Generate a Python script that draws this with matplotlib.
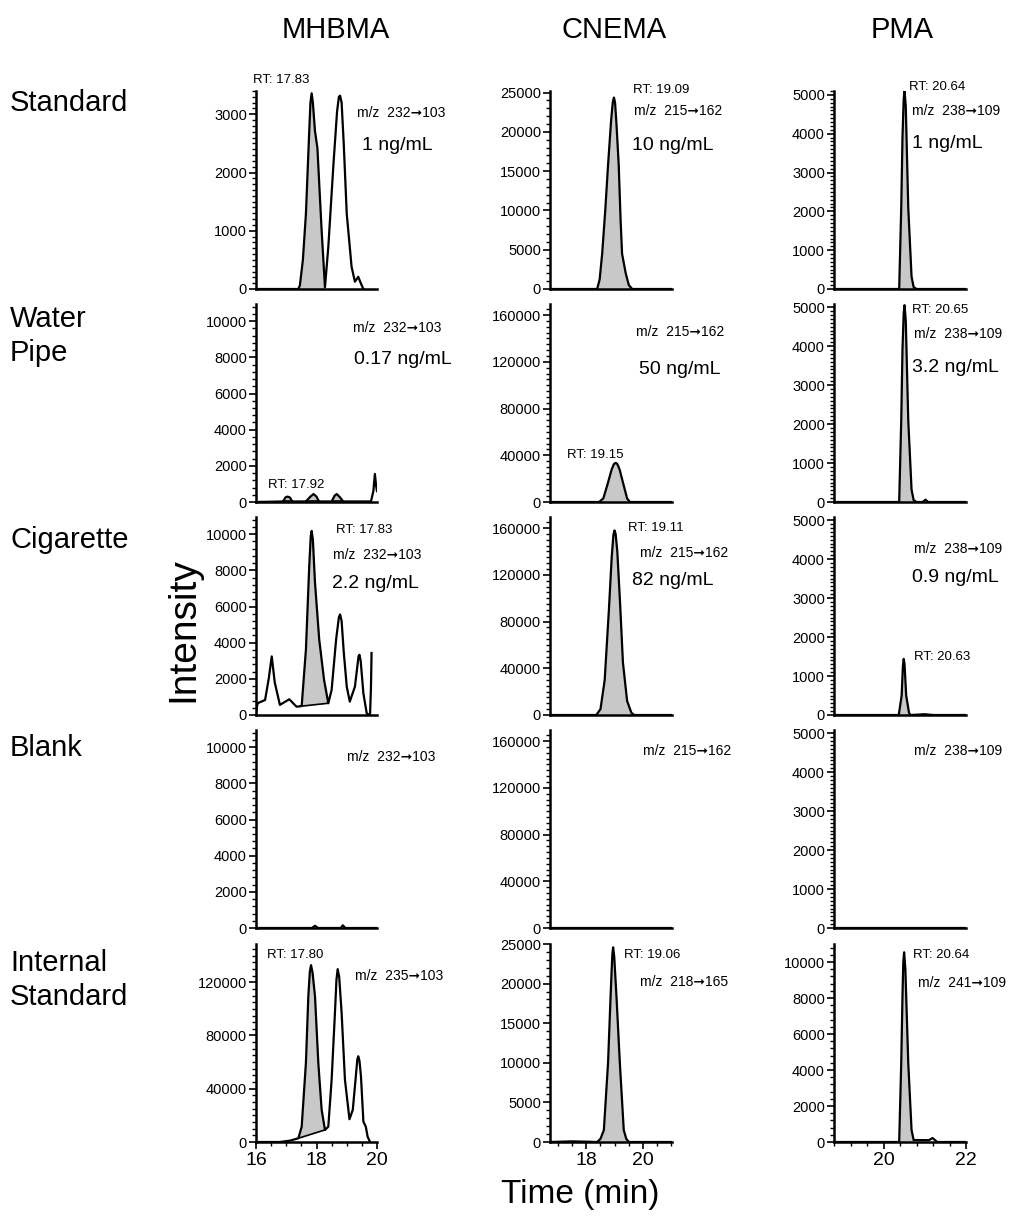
import numpy as np
import matplotlib.pyplot as plt
from matplotlib.ticker import MultipleLocator, AutoMinorLocator, NullLocator

plt.rcParams['font.family'] = ['Liberation Sans', 'DejaVu Sans']

W, H = 1029, 1222

compounds = ["MHBMA", "CNEMA", "PMA"]
samples = ["Standard", "Water\nPipe", "Cigarette", "Blank", "Internal\nStandard"]
x_limits = [(16.0, 20.0), (16.7, 21.05), (18.8, 22.0)]

# chromatogram traces (time in min, intensity)
mhbma_std_t = [16.0, 17.40, 17.45, 17.55, 17.65, 17.76, 17.80, 17.84, 17.88, 17.95, 18.03,
               18.17, 18.28, 18.39, 18.56, 18.68, 18.74, 18.78, 18.83, 18.90, 19.00, 19.16,
               19.27, 19.38, 19.48, 19.55]
mhbma_std_i = [0, 0, 60, 500, 1290, 2710, 3200, 3360, 3200, 2710, 2420,
               1000, 30, 720, 2140, 3050, 3300, 3320, 3200, 2500, 1290, 380,
               125, 210, 80, 0]

mhbma_wp_t = [16.0, 16.9, 16.97, 17.04, 17.12, 17.2, 17.65, 17.8, 17.9, 18.0, 18.08,
              18.5, 18.6, 18.67, 18.78, 18.88, 19.8, 19.88, 19.93, 19.97, 20.0]
mhbma_wp_i = [0, 30, 250, 300, 250, 30, 30, 300, 440, 300, 30,
              30, 350, 440, 250, 30, 30, 600, 1550, 900, 600]

mhbma_cig_t = [16.0, 16.05, 16.3, 16.42, 16.52, 16.62, 16.79, 17.1, 17.34, 17.45, 17.51,
               17.65, 17.76, 17.81, 17.84, 17.88, 17.95, 18.09, 18.25, 18.39, 18.5, 18.65,
               18.74, 18.78, 18.83, 18.9, 19.0, 19.1, 19.27, 19.39, 19.42, 19.46, 19.55,
               19.66, 19.77, 19.80, 19.82]
mhbma_cig_i = [100, 650, 830, 2000, 3240, 1800, 560, 870, 460, 480, 500,
               3610, 8240, 9900, 10180, 9700, 7320, 4170, 1940, 650, 1390, 4200,
               5400, 5560, 5200, 3500, 1570, 740, 1570, 3250, 3330, 3000, 1200,
               90, 0, 1500, 3430]

mhbma_blank_t = [16.0, 17.85, 17.95, 18.05, 18.8, 18.87, 18.95, 20.0]
mhbma_blank_i = [0, 0, 120, 0, 0, 150, 0, 0]

mhbma_is_t = [16.0, 16.79, 17.12, 17.40, 17.51, 17.65, 17.73, 17.78, 17.82, 17.87, 17.95,
              18.06, 18.17, 18.28, 18.39, 18.5, 18.61, 18.66, 18.7, 18.75, 18.83, 18.94,
              19.09, 19.2, 19.3, 19.35, 19.38, 19.42, 19.47, 19.55, 19.63, 19.69, 19.77]
mhbma_is_i = [0, 0, 1000, 2800, 11500, 59400, 109600, 128000, 132800, 127000, 109600,
              59400, 24200, 9100, 11500, 46800, 97100, 122000, 129800, 124000, 97100, 46800,
              17100, 24200, 49300, 62000, 64400, 61000, 49300, 15300, 11500, 4000, 0]

cnema_std_t = [16.7, 18.38, 18.47, 18.56, 18.67, 18.77, 18.88, 18.94, 18.98, 19.02, 19.07,
               19.15, 19.22, 19.27, 19.40, 19.51, 19.63, 21.05]
cnema_std_i = [0, 0, 1200, 4480, 10000, 15790, 21500, 23800, 24370, 23700, 21000,
               15790, 8500, 4480, 2000, 500, 0, 0]

cnema_wp_t = [16.7, 18.45, 18.6, 18.75, 18.9, 18.98, 19.04, 19.1, 19.18, 19.32, 19.45, 19.55, 21.05]
cnema_wp_i = [0, 0, 3000, 15000, 28000, 32500, 33500, 32500, 28000, 15000, 3000, 0, 0]

cnema_cig_t = [16.7, 18.35, 18.5, 18.65, 18.8, 18.9, 18.96, 19.0, 19.04, 19.1, 19.2, 19.3,
               19.45, 19.6, 19.7, 21.05]
cnema_cig_i = [0, 0, 5000, 30000, 90000, 135000, 154000, 158000, 155000, 140000, 95000, 45000,
               12000, 2000, 0, 0]

cnema_blank_t = [16.7, 21.05]
cnema_blank_i = [0, 0]

cnema_is_t = [16.7, 17.5, 18.0, 18.38, 18.5, 18.62, 18.77, 18.86, 18.92, 18.95, 18.99, 19.07,
              19.19, 19.33, 19.42, 19.51, 21.05]
cnema_is_i = [0, 80, 40, 0, 400, 1500, 10000, 18400, 23500, 24580, 23400, 18400,
              10000, 1500, 400, 0, 0]

pma_std_t = [18.8, 20.38, 20.43, 20.46, 20.49, 20.51, 20.54, 20.6, 20.68, 20.73, 20.8, 22.0]
pma_std_i = [0, 0, 2100, 3900, 4900, 5100, 4700, 2100, 320, 50, 0, 0]

pma_wp_t = [18.8, 20.38, 20.43, 20.46, 20.49, 20.51, 20.54, 20.6, 20.68, 20.73, 20.8,
            20.95, 21.02, 21.08, 22.0]
pma_wp_i = [0, 0, 2100, 3900, 4850, 5050, 4650, 2100, 320, 50, 0,
            0, 60, 0, 0]

pma_cig_t = [18.8, 20.37, 20.44, 20.47, 20.49, 20.51, 20.55, 20.62, 20.66, 21.0, 21.2, 22.0]
pma_cig_i = [0, 0, 500, 1250, 1440, 1300, 500, 50, 0, 20, 0, 0]

pma_blank_t = [18.8, 22.0]
pma_blank_i = [0, 0]

pma_is_t = [18.8, 20.38, 20.43, 20.46, 20.48, 20.5, 20.53, 20.6, 20.68, 20.73, 21.1, 21.19,
            21.3, 22.0]
pma_is_i = [0, 0, 4400, 8100, 10000, 10540, 9600, 4400, 670, 110, 100, 220,
            0, 0]

# integrated areas: (t start, baseline start, t end, baseline end)
mhbma_std_area = [(17.45, 0, 18.28, 0)]
mhbma_wp_area = [(16.9, 30, 17.2, 30), (17.65, 30, 18.08, 30), (18.5, 30, 18.88, 30)]
mhbma_cig_area = [(17.45, 480, 18.39, 650)]
mhbma_is_area = [(17.40, 2800, 18.28, 9100)]
cnema_std_area = [(18.38, 0, 19.63, 0)]
cnema_wp_area = [(18.45, 0, 19.55, 0)]
cnema_cig_area = [(18.35, 0, 19.7, 0)]
cnema_is_area = [(18.38, 0, 19.51, 0)]
pma_std_area = [(20.38, 0, 20.73, 0)]
pma_wp_area = [(20.38, 0, 20.73, 0)]
pma_cig_area = [(20.37, 0, 20.66, 0)]
pma_is_area = [(20.38, 0, 20.73, 0)]

traces = [
    [(mhbma_std_t, mhbma_std_i, mhbma_std_area), (cnema_std_t, cnema_std_i, cnema_std_area),
     (pma_std_t, pma_std_i, pma_std_area)],
    [(mhbma_wp_t, mhbma_wp_i, mhbma_wp_area), (cnema_wp_t, cnema_wp_i, cnema_wp_area),
     (pma_wp_t, pma_wp_i, pma_wp_area)],
    [(mhbma_cig_t, mhbma_cig_i, mhbma_cig_area), (cnema_cig_t, cnema_cig_i, cnema_cig_area),
     (pma_cig_t, pma_cig_i, pma_cig_area)],
    [(mhbma_blank_t, mhbma_blank_i, []), (cnema_blank_t, cnema_blank_i, []),
     (pma_blank_t, pma_blank_i, [])],
    [(mhbma_is_t, mhbma_is_i, mhbma_is_area), (cnema_is_t, cnema_is_i, cnema_is_area),
     (pma_is_t, pma_is_i, pma_is_area)],
]

y_tops = [[3400, 25200, 5100],
          [10950, 169500, 5080],
          [10950, 169500, 5080],
          [10950, 169500, 5080],
          [148700, 25000, 11000]]
y_steps = [[1000, 5000, 1000],
           [2000, 40000, 1000],
           [2000, 40000, 1000],
           [2000, 40000, 1000],
           [40000, 5000, 2000]]
y_minor = [[10, 5, 10], [5, 8, 10], [5, 8, 10], [5, 8, 10], [8, 5, 5]]
x_minor = [0.5, 0.5, 0.4]

# annotations per panel: (text, left px, centre px, size)
arrow = "\u279e"
RT, MZ, CONC = 9.5, 10, 14
notes = [
    [[("RT: 17.83", 253, 80, RT), (f"m/z  232{arrow}103", 357, 113, MZ), ("1 ng/mL", 362, 146, CONC)],
     [("RT: 19.09", 633, 90, RT), (f"m/z  215{arrow}162", 634, 111, MZ), ("10 ng/mL", 632, 146, CONC)],
     [("RT: 20.64", 909, 87, RT), (f"m/z  238{arrow}109", 912, 111, MZ), ("1 ng/mL", 912, 144, CONC)]],
    [[(f"m/z  232{arrow}103", 353, 328, MZ), ("0.17 ng/mL", 354, 359, CONC), ("RT: 17.92", 268, 485, RT)],
     [(f"m/z  215{arrow}162", 636, 332, MZ), ("50 ng/mL", 639, 369, CONC), ("RT: 19.15", 567, 455, RT)],
     [("RT: 20.65", 912, 310, RT), (f"m/z  238{arrow}109", 914, 334, MZ), ("3.2 ng/mL", 912, 368, CONC)]],
    [[("RT: 17.83", 336, 530, RT), (f"m/z  232{arrow}103", 333, 555, MZ), ("2.2 ng/mL", 332, 583, CONC)],
     [("RT: 19.11", 628, 528, RT), (f"m/z  215{arrow}162", 640, 553, MZ), ("82 ng/mL", 632, 581, CONC)],
     [(f"m/z  238{arrow}109", 914, 549, MZ), ("0.9 ng/mL", 912, 578, CONC), ("RT: 20.63", 914, 657, RT)]],
    [[(f"m/z  232{arrow}103", 347, 757, MZ)],
     [(f"m/z  215{arrow}162", 643, 751, MZ)],
     [(f"m/z  238{arrow}109", 914, 751, MZ)]],
    [[("RT: 17.80", 267, 955, RT), (f"m/z  235{arrow}103", 355, 976, MZ)],
     [("RT: 19.06", 624, 955, RT), (f"m/z  218{arrow}165", 640, 982, MZ)],
     [("RT: 20.64", 913, 955, RT), (f"m/z  241{arrow}109", 918, 983, MZ)]],
]

col_left = [256, 550, 834]
col_width = [121, 122, 132]
row_bottom = [289, 502, 715, 928, 1142]
row_height = 198

fig = plt.figure(figsize=(W / 100, H / 100), dpi=100)

for r in range(5):
    for c in range(3):
        ax = fig.add_axes([col_left[c] / W, 1 - row_bottom[r] / H,
                           col_width[c] / W, row_height / H])
        t, inten, areas = traces[r][c]
        t = np.array(t)
        inten = np.array(inten)
        for t0, b0, t1, b1 in areas:
            m = (t >= t0) & (t <= t1)
            base = np.interp(t[m], [t0, t1], [b0, b1])
            ax.fill_between(t[m], base, inten[m], color="#c8c8c8", lw=0)
            if b0 or b1:
                ax.plot([t0, t1], [b0, b1], color="black", lw=1.2)
        ax.plot(t, inten, color="black", lw=1.6, solid_joinstyle="round")

        ax.set_xlim(*x_limits[c])
        ax.set_ylim(0, y_tops[r][c])
        for s in ["top", "right"]:
            ax.spines[s].set_visible(False)
        for s in ["left", "bottom"]:
            ax.spines[s].set_linewidth(1.8)
        ax.yaxis.set_major_locator(MultipleLocator(y_steps[r][c]))
        ax.yaxis.set_minor_locator(AutoMinorLocator(y_minor[r][c]))
        ax.tick_params(axis="both", which="major", direction="out", length=5,
                       width=1.2, labelsize=10.5, pad=1.5)
        ax.tick_params(axis="both", which="minor", direction="out", length=3, width=1.0)
        if r == 4:
            ax.xaxis.set_major_locator(MultipleLocator(2))
            ax.xaxis.set_minor_locator(MultipleLocator(x_minor[c]))
            ax.tick_params(axis="x", which="major", labelsize=14, pad=2)
        else:
            ax.xaxis.set_major_locator(NullLocator())
            ax.xaxis.set_minor_locator(NullLocator())

        for txt, x, y, sz in notes[r][c]:
            fig.text(x / W, 1 - y / H, txt, fontsize=sz, ha="left", va="center")

# column headers and row labels
col_centre = [336, 614, 902]
for name, x in zip(compounds, col_centre):
    fig.text(x / W, 1 - 30 / H, name, fontsize=21, ha="center", va="center")

row_label_y = [103, 336, 540, 748, 980]
for name, y in zip(samples, row_label_y):
    fig.text(10 / W, 1 - y / H, name, fontsize=21, ha="left", va="center",
             linespacing=1.3)

fig.text(183 / W, 1 - 630 / H, "Intensity", fontsize=28, rotation=90,
         ha="center", va="center")
fig.text(580 / W, 1 - 1194 / H, "Time (min)", fontsize=24, ha="center", va="center")

fig.savefig("out.png", dpi=100)
